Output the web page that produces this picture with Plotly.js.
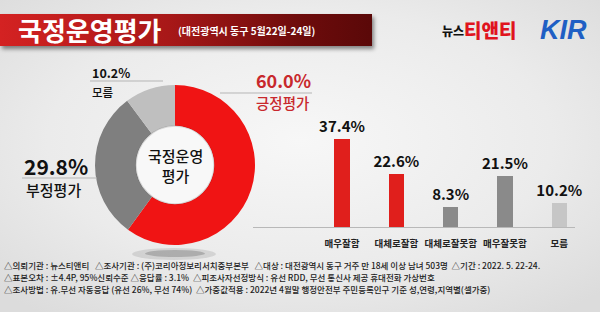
<!DOCTYPE html>
<html><head><meta charset="utf-8">
<script src="https://cdn.plot.ly/plotly-3.0.1.min.js"></script>
<style>
html,body{margin:0;padding:0;width:600px;height:312px;overflow:hidden;}
body{background:radial-gradient(ellipse 70% 70% at 50% 45%, #f7f7f7 0%, #ebebeb 60%, #dcdcdc 100%);}
#banner{position:absolute;left:0;top:14px;width:372px;height:32px;background:linear-gradient(to right,#d42222 0%,#a81818 45%,#6e0c0c 80%,#5a0808 100%);box-shadow:2px 3px 4px rgba(0,0,0,0.45);}
#chart{position:absolute;left:0;top:0;width:600px;height:312px;}
</style></head>
<body>
<div id="banner"></div>
<div id="chart"></div>
<script>
// ---- data ----
const pieLabels = ['긍정평가', '부정평가', '모름'];
const pieValues = [60.0, 29.8, 10.2];
const barCategories = ['매우잘함', '대체로잘함', '대체로잘못함', '매우잘못함', '모름'];
const barValues = [37.4, 22.6, 8.3, 21.5, 10.2];
const titleText = '국정운영평가';
const subtitleText = '(대전광역시 동구 5월22일-24일)';
const centerText = '국정운영<br>평가';
const footerLines = [
  '△의뢰기관 : 뉴스티앤티   △조사기관 : (주)코리아정보리서치중부본부   △대상 : 대전광역시 동구 거주 만 18세 이상 남녀 503명  △기간 : 2022. 5. 22-24.',
  '△표본오차 : ±4.4P, 95%신뢰수준 △응답률 : 3.1%  △피조사자선정방식 : 유선 RDD, 무선 통신사 제공 휴대전화 가상번호',
  '△조사방법 : 유.무선 자동응답 (유선 26%, 무선 74%)  △가중값적용 : 2022년 4월말 행정안전부 주민등록인구 기준 성,연령,지역별(셀가중)'
];

// ---- helpers ----
const W = 600, H = 312;
const px = x => x / W;
const py = y => 1 - y / H;
const KR = '"Noto Sans CJK KR", "Noto Sans", sans-serif';

const pieColors = ['#f01414', '#7f7f7f', '#bfbfbf'];
const barColors = ['#e01f1c', '#e01f1c', '#8a8a8a', '#8a8a8a', '#c6c6c6'];

const pie = {
  type: 'pie', labels: pieLabels, values: pieValues, sort: false,
  direction: 'clockwise', rotation: 0, hole: 0.49,
  marker: {colors: pieColors, line: {width: 0}},
  textinfo: 'none', hoverinfo: 'none', showlegend: false,
  domain: {x: [px(95), px(255)], y: [py(245), py(85)]}
};

const bar = {
  type: 'bar', x: barCategories, y: barValues,
  marker: {color: barColors}, width: 0.28,
  text: barValues.map(v => v.toFixed(1) + '%'),
  textposition: 'outside', cliponaxis: false, constraintext: 'none',
  textfont: {family: KR, size: 15, color: '#111', weight: 700},
  hoverinfo: 'none', showlegend: false
};

const annotations = [
  {text: titleText, x: px(16), y: py(30), xanchor: 'left', yanchor: 'middle',
   font: {family: KR, size: 26, color: '#fff', weight: 700}},
  {text: subtitleText, x: px(176), y: py(31), xanchor: 'left', yanchor: 'middle',
   font: {family: KR, size: 10, color: '#fff', weight: 700}},
  {text: '뉴스', x: px(440), y: py(31), xanchor: 'left', yanchor: 'middle',
   font: {family: KR, size: 12, color: '#111', weight: 900}},
  {text: '티앤티', x: px(462), y: py(30), xanchor: 'left', yanchor: 'middle',
   font: {family: KR, size: 19, color: '#e0141e', weight: 900}},
  {text: '<i>KIR</i>', x: px(538), y: py(30), xanchor: 'left', yanchor: 'middle',
   font: {family: '"Liberation Sans", Arial, sans-serif', size: 27, color: '#1f5fc4', weight: 900}},
  {text: centerText, x: px(175), y: py(165), xanchor: 'center', yanchor: 'middle',
   font: {family: KR, size: 15, color: '#111', weight: 500}},
  {text: '60.0%', x: px(254), y: py(80), xanchor: 'left', yanchor: 'middle',
   font: {family: KR, size: 18, color: '#c8282c', weight: 700}},
  {text: '긍정평가', x: px(254), y: py(103), xanchor: 'left', yanchor: 'middle',
   font: {family: KR, size: 14.5, color: '#c8282c', weight: 500}},
  {text: '29.8%', x: px(22), y: py(166), xanchor: 'left', yanchor: 'middle',
   font: {family: KR, size: 21, color: '#111', weight: 700}},
  {text: '부정평가', x: px(24), y: py(190), xanchor: 'left', yanchor: 'middle',
   font: {family: KR, size: 15, color: '#111', weight: 500}},
  {text: '10.2%', x: px(90), y: py(72), xanchor: 'left', yanchor: 'middle',
   font: {family: KR, size: 12.5, color: '#111', weight: 700}},
  {text: '모름', x: px(90), y: py(92), xanchor: 'left', yanchor: 'middle',
   font: {family: KR, size: 11.5, color: '#111', weight: 500}}
];
footerLines.forEach((t, i) => annotations.push({
  text: t, x: px(2), y: py(265 + i * 12), xanchor: 'left', yanchor: 'middle',
  font: {family: KR, size: 8.5, color: '#222', weight: 500}
}));
annotations.forEach(a => { a.xref = 'paper'; a.yref = 'paper'; a.showarrow = false; });

const line = (x0, y0, x1, y1) => ({type: 'line', xref: 'paper', yref: 'paper',
  x0: px(x0), y0: py(y0), x1: px(x1), y1: py(y1), line: {color: '#b5b5b5', width: 1}});

const shapes = [
  {type: 'circle', xref: 'paper', yref: 'paper', x0: px(132), x1: px(216), y0: py(248), y1: py(260),
   fillcolor: 'rgba(0,0,0,0.10)', line: {width: 0}, layer: 'below'},
  {type: 'circle', xref: 'paper', yref: 'paper', x0: px(145), x1: px(205), y0: py(250), y1: py(257),
   fillcolor: 'rgba(0,0,0,0.18)', line: {width: 0}, layer: 'below'},
  {type: 'circle', xref: 'paper', yref: 'paper', x0: px(136), x1: px(214), y0: py(204), y1: py(126),
   fillcolor: '#f8f8f8', line: {color: 'rgba(0,0,0,0.12)', width: 1.5}, layer: 'above'},
  line(220, 93, 312, 93),
  line(22, 178, 97, 178),
  line(90, 81, 163, 81)
];

const layout = {
  width: W, height: H, margin: {l: 0, r: 0, t: 0, b: 0},
  paper_bgcolor: 'rgba(0,0,0,0)', plot_bgcolor: 'rgba(0,0,0,0)',
  xaxis: {domain: [px(253), px(575)], range: [-1.64, 4.29], showline: true,
    linecolor: '#b8b8b8', linewidth: 1, showgrid: false, zeroline: false, ticks: '',
    ticklabelstandoff: 8, fixedrange: true,
    tickfont: {family: KR, size: 9.5, color: '#222', weight: 700}},
  yaxis: {domain: [py(227), py(133)], range: [0, 40], visible: false, fixedrange: true},
  annotations, shapes, bargap: 0
};

Plotly.newPlot('chart', [pie, bar], layout, {staticPlot: true, displayModeBar: false});
</script>
</body></html>
